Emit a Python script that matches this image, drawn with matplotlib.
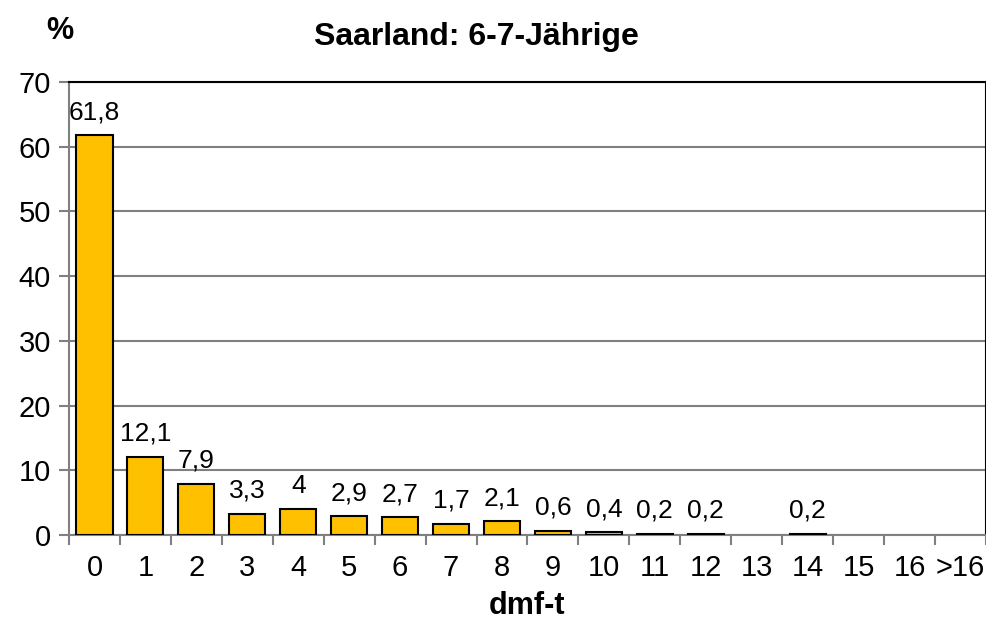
import matplotlib.pyplot as plt

plt.rcParams['font.family'] = ['Liberation Sans', 'DejaVu Sans']

categories = ['0', '1', '2', '3', '4', '5', '6', '7', '8', '9', '10', '11', '12', '13', '14', '15', '16', '>16']
values = [61.8, 12.1, 7.9, 3.3, 4, 2.9, 2.7, 1.7, 2.1, 0.6, 0.4, 0.2, 0.2, 0, 0.2, 0, 0, 0]
value_labels = ['61,8', '12,1', '7,9', '3,3', '4', '2,9', '2,7', '1,7', '2,1', '0,6', '0,4', '0,2', '0,2', '', '0,2', '', '', '']

fig = plt.figure(figsize=(9.87, 6.22), dpi=100)
ax = fig.add_axes([0.0699, 0.140, 0.929, 0.728])

x = range(len(categories))
bars = ax.bar(x, values, width=0.71, color='#FFC000', edgecolor='black', linewidth=1.5, zorder=3)

for b, v, lab in zip(bars, values, value_labels):
    if v == 0:
        b.set_linewidth(0)
    if lab:
        ax.annotate(lab, (b.get_x() + b.get_width() / 2, b.get_height()),
                    xytext=(0, 8), textcoords='offset points',
                    ha='center', va='bottom', fontsize=19)

ax.set_xlim(-0.5, len(categories) - 0.5)
ax.set_ylim(0, 70)
ax.set_yticks(range(0, 71, 10))
ax.set_xticks(list(x))
ax.set_xticklabels(categories)
ax.tick_params(axis='both', labelsize=21, color='#808080', length=7, width=1.5)
ax.tick_params(axis='y', pad=6)
ax.tick_params(axis='x', pad=14)
ax.set_xticks([i - 0.5 for i in range(len(categories) + 1)], minor=True)
ax.tick_params(axis='x', which='major', length=0)
ax.tick_params(axis='x', which='minor', color='#808080', length=7, width=1.5)

ax.grid(axis='y', color='#808080', linewidth=1.5, zorder=0)
for s in ['left', 'bottom']:
    ax.spines[s].set_color('#808080')
    ax.spines[s].set_linewidth(1.5)
for s in ['top', 'right']:
    ax.spines[s].set_color('black')
    ax.spines[s].set_linewidth(1.5)

ax.set_xlabel('dmf-t', fontsize=22, fontweight='bold', labelpad=6)
fig.text(0.483, 0.940, 'Saarland: 6-7-Jährige', ha='center', va='center', fontsize=23, fontweight='bold')
fig.text(0.061, 0.950, '%', ha='center', va='center', fontsize=22, fontweight='bold')

fig.savefig('out.png', dpi=100)
